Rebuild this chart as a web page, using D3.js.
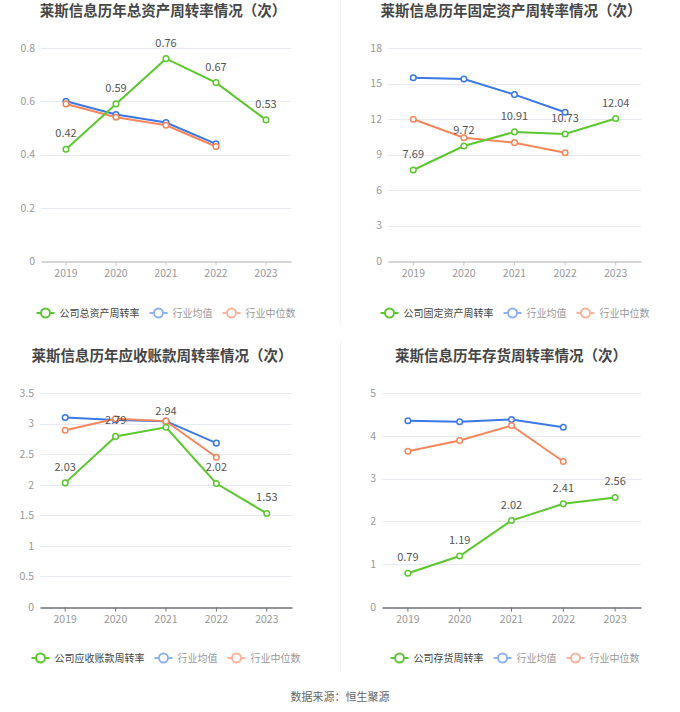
<!DOCTYPE html>
<html><head><meta charset="utf-8">
<script src="https://cdn.jsdelivr.net/npm/d3@7/dist/d3.min.js"></script>
<style>body{margin:0;background:#fff;}svg{display:block;font-family:"Noto Sans CJK SC","Noto Sans",sans-serif;}</style>
</head><body>
<svg id="c" width="680" height="712"></svg>
<script>
const years = ["2019","2020","2021","2022","2023"];
const indYears = ["2019","2020","2021","2022"];

const titles = ["莱斯信息历年总资产周转率情况（次）","莱斯信息历年固定资产周转率情况（次）","莱斯信息历年应收账款周转率情况（次）","莱斯信息历年存货周转率情况（次）"];
const companyNames = ["公司总资产周转率","公司固定资产周转率","公司应收账款周转率","公司存货周转率"];
const avgName = "行业均值", medName = "行业中位数";

const totalCompany = [0.42,0.59,0.76,0.67,0.53];
const totalAvg = [0.60,0.55,0.52,0.44];
const totalMed = [0.59,0.54,0.51,0.43];
const totalTicks = [0,0.2,0.4,0.6,0.8];

const fixedCompany = [7.69,9.72,10.91,10.73,12.04];
const fixedAvg = [15.49,15.38,14.06,12.57];
const fixedMed = [11.98,10.42,10.0,9.15];
const fixedTicks = [0,3,6,9,12,15,18];

const recvCompany = [2.03,2.79,2.94,2.02,1.53];
const recvAvg = [3.10,3.06,3.04,2.68];
const recvMed = [2.89,3.08,3.04,2.45];
const recvTicks = [0,0.5,1,1.5,2,2.5,3,3.5];

const invCompany = [0.79,1.19,2.02,2.41,2.56];
const invAvg = [4.35,4.33,4.38,4.20];
const invMed = [3.64,3.89,4.24,3.40];
const invTicks = [0,1,2,3,4,5];

const GREEN="#5cc72f", BLUE="#3b78e7", ORANGE="#f7865a";
const GREEN_L="#5cc72f", BLUE_L="#8fb2f3", ORANGE_L="#fbb49a";

const svg = d3.select("#c");

// separators
svg.append("line").attr("x1",340.5).attr("x2",340.5).attr("y1",0).attr("y2",325).attr("stroke","#f2f2f2");
svg.append("line").attr("x1",340.5).attr("x2",340.5).attr("y1",340).attr("y2",670).attr("stroke","#f2f2f2");

const panels = [
 {title:titles[0], tx:163, ty:11, xr:[41,291], yr:[261,48], ticks:totalTicks, comp:totalCompany, avg:totalAvg, med:totalMed, name:companyNames[0], ly:313, lc:166, axis:"#c8c8c8"},
 {title:titles[1], tx:511, ty:11, xr:[388,641], yr:[261,48], ticks:fixedTicks, comp:fixedCompany, avg:fixedAvg, med:fixedMed, name:companyNames[1], ly:313, lc:515, axis:"#c8c8c8"},
 {title:titles[2], tx:162, ty:356, xr:[40,292], yr:[607,393], ticks:recvTicks, comp:recvCompany, avg:recvAvg, med:recvMed, name:companyNames[2], ly:658, lc:166, axis:"#6e7079"},
 {title:titles[3], tx:511, ty:356, xr:[382,641], yr:[607,393], ticks:invTicks, comp:invCompany, avg:invAvg, med:invMed, name:companyNames[3], ly:658, lc:515, axis:"#6e7079"}
];

panels.forEach(p=>{
  const g = svg.append("g");
  const x = d3.scaleBand().domain(years).range(p.xr);
  const cx = d => x(d)+x.bandwidth()/2;
  const y = d3.scaleLinear().domain([0, p.ticks[p.ticks.length-1]]).range(p.yr);

  g.append("text").attr("x",p.tx).attr("y",p.ty).attr("dy","0.35em").attr("text-anchor","middle")
    .attr("font-size",14.5).attr("font-weight","bold").attr("fill","#464646").text(p.title);

  // grid
  g.selectAll(".grid").data(p.ticks.slice(1)).join("line")
    .attr("x1",p.xr[0]).attr("x2",p.xr[1]).attr("y1",d=>Math.round(y(d))+0.5).attr("y2",d=>Math.round(y(d))+0.5)
    .attr("stroke","#e7eaf4").attr("stroke-width",1);

  // y labels
  const yAxis = d3.axisLeft(y).tickValues(p.ticks).tickSize(0).tickPadding(6).tickFormat(d=>String(d));
  const ya = g.append("g").attr("transform",`translate(${p.xr[0]},0)`).call(yAxis);
  ya.select(".domain").remove();
  ya.selectAll("text").attr("fill","#999").attr("font-size",10.5).attr("font-family","'Noto Sans CJK SC','Noto Sans',sans-serif");

  // x axis
  const xAxis = d3.axisBottom(x).tickSize(4).tickSizeOuter(0).tickPadding(4);
  const xa = g.append("g").attr("transform",`translate(0,${p.yr[0]+0.5})`).call(xAxis);
  xa.select(".domain").attr("stroke",p.axis).attr("stroke-width",1.5);
  xa.selectAll(".tick line").attr("stroke",p.axis);
  xa.selectAll("text").attr("fill","#999").attr("font-size",10.5).attr("font-family","'Noto Sans CJK SC','Noto Sans',sans-serif");

  const line = d3.line().x(d=>cx(d[0])).y(d=>y(d[1]));
  const series = [
    {data: indYears.map((yr,i)=>[yr,p.avg[i]]), color:BLUE},
    {data: indYears.map((yr,i)=>[yr,p.med[i]]), color:ORANGE},
    {data: years.map((yr,i)=>[yr,p.comp[i]]), color:GREEN, labels:true}
  ];
  series.forEach(s=>{
    g.append("path").datum(s.data).attr("d",line).attr("fill","none").attr("stroke",s.color).attr("stroke-width",2);
    g.selectAll(null).data(s.data).join("circle").attr("cx",d=>cx(d[0])).attr("cy",d=>y(d[1]))
      .attr("r",2.8).attr("fill","#fff").attr("stroke",s.color).attr("stroke-width",1.5);
    if(s.labels){
      g.selectAll(null).data(s.data).join("text").attr("x",d=>cx(d[0])).attr("y",d=>y(d[1])-12)
        .attr("text-anchor","middle").attr("font-size",11).attr("fill","#555").text(d=>d[1].toFixed(2));
    }
  });

  // legend
  const items = [{n:p.name,c:GREEN_L,t:"#444"},{n:avgName,c:BLUE_L,t:"#999"},{n:medName,c:ORANGE_L,t:"#999"}];
  const lg = g.append("g");
  let off = 0;
  items.forEach(it=>{
    const ig = lg.append("g").attr("transform",`translate(${off},0)`);
    ig.append("line").attr("x1",0).attr("x2",18).attr("y1",0).attr("y2",0).attr("stroke",it.c).attr("stroke-width",2);
    ig.append("circle").attr("cx",9).attr("cy",0).attr("r",4.5).attr("fill","#fff").attr("stroke",it.c).attr("stroke-width",2);
    const t = ig.append("text").attr("x",23).attr("y",0).attr("dy","0.35em").attr("font-size",10).attr("fill",it.t).text(it.n);
    off += 23 + t.node().getComputedTextLength() + 10;
  });
  const total = off - 10;
  lg.attr("transform",`translate(${p.lc-total/2},${p.ly})`);
});

svg.append("text").attr("x",340).attr("y",697).attr("dy","0.35em").attr("text-anchor","middle")
  .attr("font-size",11).attr("fill","#666").text("数据来源：恒生聚源");
</script>
</body></html>
